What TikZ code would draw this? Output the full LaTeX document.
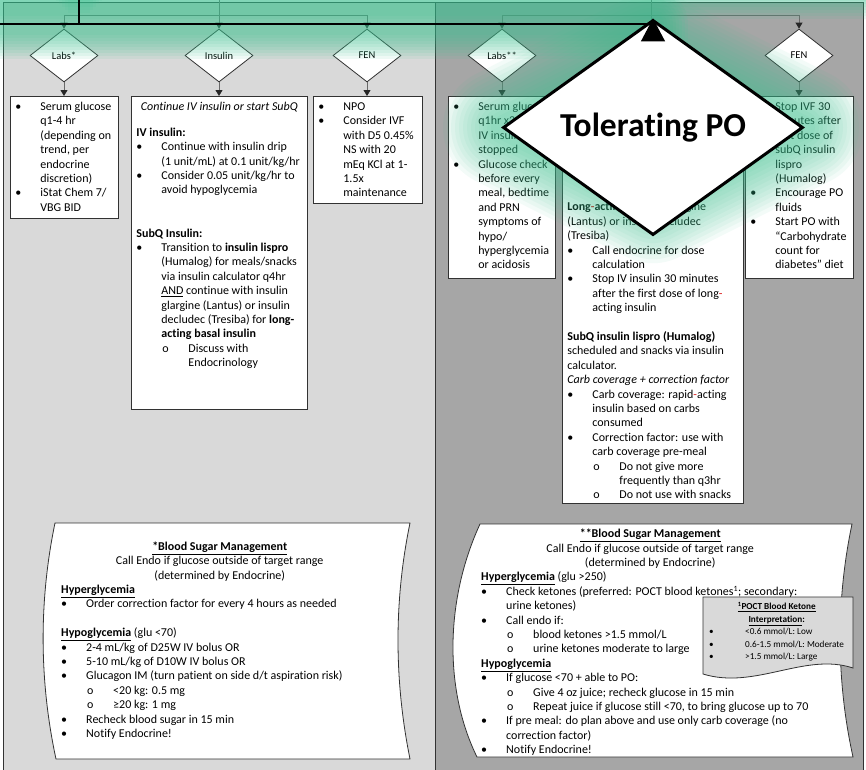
\documentclass[tikz,border=0pt]{standalone}
\usepackage{fontspec}
\setmainfont{Carlito}[Ligatures=NoCommon]
\usetikzlibrary{positioning,shapes.geometric,arrows.meta}

\definecolor{panelleft}{RGB}{217,217,217}
\definecolor{panelright}{RGB}{166,166,166}
\definecolor{framegray}{RGB}{50,50,50}
\definecolor{treegray}{RGB}{105,105,105}
\definecolor{glowgreen}{RGB}{60,195,145}
\definecolor{hyphenred}{RGB}{220,30,30}

% list helpers (bullet / sub-bullet / small bullet)
\newcommand{\bitem}[1]{\par\hangindent=25pt\hangafter=1\noindent\makebox[25pt][l]{\strut\textbullet}#1\par}
\newcommand{\sitem}[1]{\par\hangindent=52pt\hangafter=1\noindent\hspace*{26pt}\makebox[26pt][l]{\strut o}#1\par}
\newcommand{\kitem}[1]{\par\noindent\hspace*{3pt}\makebox[36pt][l]{\strut\textbullet}#1\par}
\newcommand{\boxtext}[3]{\parbox[t][#2][t]{#1}{\raggedright\leftskip=5pt\vspace*{4pt}#3}}
\newcommand{\notetext}[2]{\parbox[t]{#1}{\raggedright #2}}
\newcommand{\rh}{\textcolor{hyphenred}{-}}

\begin{document}
\begin{tikzpicture}[x=1pt, y=-1pt,
  every node/.style={font=\fontsize{12}{14.4}\selectfont},
  panel/.style={draw=framegray, line width=1pt},
  treeline/.style={draw=treegray, line width=0.8pt},
  treearrow/.style={treeline, -{Triangle[width=7pt,length=6pt,color=black!85]}},
  smalldia/.style={diamond, draw=framegray, line width=0.8pt, fill=white, minimum width=68pt, minimum height=53pt, inner sep=0pt, font=\fontsize{10.5}{12}\selectfont},
  infobox/.style={draw=framegray, line width=0.8pt, fill=white, inner sep=0pt, anchor=north west},
  notetxt/.style={inner sep=0pt, anchor=north west},
  noteshape/.style={draw=framegray, line width=0.8pt, fill=white},
  glowline/.style={draw=glowgreen, line cap=round, line join=round},
  mainline/.style={draw=black, line width=1.3pt},
  mainarrow/.style={mainline, -{Triangle[width=24pt,length=23pt]}},
  bigdia/.style={diamond, draw=black, line width=3pt, fill=white, minimum width=300pt, minimum height=151pt, inner sep=0pt, font=\fontsize{33.5}{36}\selectfont\bfseries}
]
\useasboundingbox (0,0) rectangle (866,769);
\clip (0,0) rectangle (866,769);
\fill[white] (0,0) rectangle (866,769);

% two panels
\draw[panel, fill=panelleft] (3,2) rectangle (435,800);
\draw[panel, fill=panelright] (435,2) rectangle (863,800);

\coordinate (ltop) at (219,0);
\coordinate (lsplit) at (219,15);
\coordinate (rtop) at (651,0);
\coordinate (rsplit) at (651,15);

% decision diamonds
\node[smalldia] (labsL) at (64,55.5) {Labs*};
\node[smalldia] (insL) at (219,55.5) {Insulin};
\node[smalldia] (fenL) at (367,55.5) {FEN};
\node[smalldia] (labsR) at (502,55.5) {Labs**};
\node[smalldia] (insR) at (651,55.5) {Insulin};
\node[smalldia] (fenR) at (799,55.5) {FEN};

\draw[treeline] (ltop) -- (lsplit);
\foreach \d in {labsL,insL,fenL} \draw[treearrow] (lsplit) -| (\d.north);
\draw[treeline] (rtop) -- (rsplit);
\foreach \d in {labsR,insR,fenR} \draw[treearrow] (rsplit) -| (\d.north);

% boxes, left panel
\node[infobox] (labsL-box) at (10,96) {\boxtext{108pt}{122pt}{%
  \bitem{Serum glucose\newline q1-4 hr\newline (depending on\newline trend, per\newline endocrine\newline discretion)}
  \bitem{iStat Chem 7/\newline VBG BID}}};
\node[infobox] (insL-box) at (131,96) {\boxtext{176pt}{313pt}{%
  {\centering\strut\textit{Continue IV insulin or start SubQ}\par}
  \vspace{11.5pt}
  \strut\textbf{IV insulin:}\par
  \bitem{Continue with insulin drip\newline (1 unit/mL) at 0.1 unit/kg/hr}
  \bitem{Consider 0.05 unit/kg/hr to\newline avoid hypoglycemia}
  \vspace{28.8pt}
  \strut\textbf{SubQ Insulin:}\par
  \bitem{Transition to \textbf{insulin lispro}\newline (Humalog) for meals/snacks\newline via insulin calculator q4hr\newline \underline{AND} continue with insulin\newline glargine (Lantus) or insulin\newline decludec (Tresiba) for \textbf{long-}\newline \textbf{acting basal insulin}}
  \sitem{Discuss with\newline Endocrinology}}};
\node[infobox] (fenL-box) at (313,96) {\boxtext{109pt}{107pt}{%
  \bitem{NPO}
  \bitem{Consider IVF\newline with D5 0.45\%\newline NS with 20\newline mEq KCl at 1-\newline 1.5x\newline maintenance}}};

% boxes, right panel
\node[infobox] (labsR-box) at (448,96) {\boxtext{107pt}{182pt}{%
  \bitem{Serum glucose\newline q1hr x2\newline IV insulin\newline stopped}
  \bitem{Glucose check\newline before every\newline meal, bedtime\newline and PRN\newline symptoms of\newline hypo/\newline hyperglycemia\newline or acidosis}}};
\node[infobox] (insR-box) at (562,96) {\boxtext{181pt}{407pt}{%
  \vspace*{100.5pt}
  \strut\textbf{Long\rh acting insulin:} glargine\newline (Lantus) or insulin decludec\newline (Tresiba)\par
  \bitem{Call endocrine for dose\newline calculation}
  \bitem{Stop IV insulin 30 minutes\newline after the first dose of long\rh\newline acting insulin}
  \vspace{14.4pt}
  \strut\textbf{SubQ insulin lispro (Humalog)}\newline scheduled and snacks via insulin\newline calculator.\par
  \strut\textit{Carb coverage + correction factor}\par
  \bitem{Carb coverage: rapid\rh acting\newline insulin based on carbs\newline consumed}
  \bitem{Correction factor: use with\newline carb coverage pre-meal}
  \sitem{Do not give more\newline frequently than q3hr}
  \sitem{Do not use with snacks}}};
\node[infobox] (fenR-box) at (745,96) {\boxtext{108pt}{182pt}{%
  \bitem{Stop IVF 30\newline minutes after\newline first dose of\newline subQ insulin\newline lispro\newline (Humalog)}
  \bitem{Encourage PO\newline fluids}
  \bitem{Start PO with\newline “Carbohydrate\newline count for\newline diabetes” diet}}};

\foreach \d in {labsL,insL,fenL,labsR,insR,fenR}
  \draw[treearrow] (\d.south) -- (\d.south |- \d-box.north);

% blood sugar notes
\draw[noteshape] (55,523) -- (410,523) .. controls (394,600) and (394,680) .. (410,759)
  -- (56,759) .. controls (39,680) and (39,600) .. (55,523) -- cycle;
\node[notetxt] (sugarL) at (61,540) {\notetext{317pt}{%
  {\centering\strut\textbf{\underline{*Blood Sugar Management}}\par
   Call Endo if glucose outside of target range\par
   (determined by Endocrine)\par}
  \strut\textbf{\underline{Hyperglycemia}}\par
  \bitem{Order correction factor for every 4 hours as needed}
  \vspace{14.4pt}
  \strut\textbf{\underline{Hypoglycemia}} (glu <70)\par
  \bitem{2-4 mL/kg of D25W IV bolus OR}
  \bitem{5-10 mL/kg of D10W IV bolus OR}
  \bitem{Glucagon IM (turn patient on side d/t aspiration risk)}
  \sitem{<20 kg: 0.5 mg}
  \sitem{≥20 kg: 1 mg}
  \bitem{Recheck blood sugar in 15 min}
  \bitem{Notify Endocrine!}}};

\draw[noteshape] (480,524) -- (852,524) .. controls (836,600) and (836,680) .. (853,757)
  -- (477,757) .. controls (444,690) and (445,600) .. (480,524) -- cycle;
\node[notetxt] (sugarR) at (481,527.5) {\notetext{338pt}{%
  {\centering\strut\textbf{\underline{**Blood Sugar Management}}\par
   Call Endo if glucose outside of target range\par
   (determined by Endocrine)\par}
  \strut\textbf{\underline{Hyperglycemia}} (glu >250)\par
  \bitem{Check ketones (preferred: POCT blood ketones\textsuperscript{1}; secondary:\newline urine ketones)}
  \bitem{Call endo if:}
  \sitem{blood ketones >1.5 mmol/L}
  \sitem{urine ketones moderate to large}
  \strut\textbf{\underline{Hypoglycemia}}\par
  \bitem{If glucose <70 + able to PO:}
  \sitem{Give 4 oz juice; recheck glucose in 15 min}
  \sitem{Repeat juice if glucose still <70, to bring glucose up to 70}
  \bitem{If pre meal: do plan above and use only carb coverage (no\newline correction factor)}
  \bitem{Notify Endocrine!}}};

\draw[noteshape, fill=panelleft] (703,597) -- (853,597) -- (853,668)
  .. controls (805,652) and (755,690) .. (703,674) -- cycle;
\node[notetxt, font=\fontsize{9.2}{12.4}\selectfont] (ketone) at (706,601) {\notetext{147pt}{%
  {\centering\strut\textbf{\underline{\textsuperscript{1}POCT Blood Ketone}}\hspace*{6pt}\par
   \strut\textbf{\underline{Interpretation}:}\hspace*{6pt}\par}
  \kitem{<0.6 mmol/L: Low}
  \kitem{0.6-1.5 mmol/L: Moderate}
  \kitem{>1.5 mmol/L: Large}}};

% glow round the highlighted path
\coordinate (feedL) at (0,24);
\coordinate (feedT) at (79,0);
\coordinate (tolN) at (653,52);
\coordinate (tolE) at (803,127.5);
\coordinate (tolS) at (653,203);
\coordinate (tolW) at (503,127.5);
\coordinate (edgeL) at (0,-16);
\coordinate (edgeR) at (866,-16);
\foreach \gw in {70,64,...,22}{
  \draw[glowline, line width=\gw pt, opacity=0.085] (feedT) -- (feedT |- feedL) (feedL) -| (tolN);
  \draw[glowline, line width=\gw pt, opacity=0.085] (edgeL) -- (edgeR);
}
\foreach \gw in {120,112,...,24}
  \draw[glowline, line width=\gw pt, opacity=0.06] (tolN) -- (tolE) -- (tolS) -- (tolW) -- cycle;

\node[bigdia] (tolpo) at (653,127.5) {Tolerating PO};
\draw[mainline] (feedT) -- (feedT |- feedL);
\draw[mainarrow] (feedL) -| (tolpo.north);
\end{tikzpicture}
\end{document}
